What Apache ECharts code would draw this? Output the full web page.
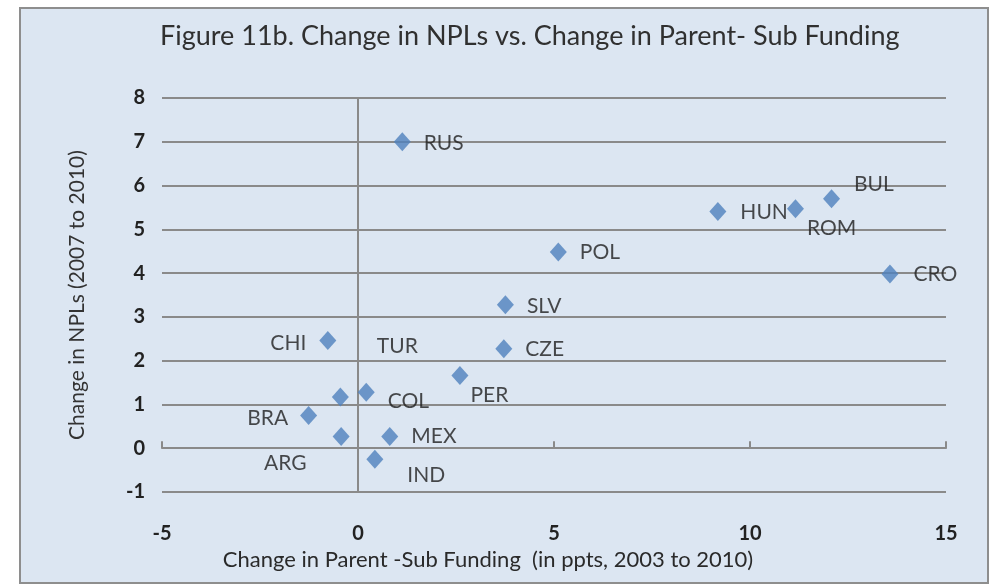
<!DOCTYPE html>
<html>
<head>
<meta charset="utf-8">
<script src="https://cdn.jsdelivr.net/npm/echarts@6/dist/echarts.min.js"></script>
<style>
  html, body { margin: 0; padding: 0; background: #ffffff; }
  #frame { position: absolute; left: 19px; top: 7px; width: 966px; height: 573px;
           background: #dce6f2; border: 2px solid #8e8e8e; }
  #chart { position: absolute; left: 0; top: 0; width: 994px; height: 584px; }
</style>
</head>
<body>
<div id="frame"></div>
<div id="chart"></div>
<script>
// ---- Data ----
const countries = ['RUS', 'HUN', 'ROM', 'BUL', 'CRO', 'POL', 'SLV', 'CZE', 'CHI', 'TUR', 'COL', 'PER', 'BRA', 'ARG', 'MEX', 'IND'];
const fundingChange = [1.13, 9.18, 11.16, 12.08, 13.57, 5.11, 3.76, 3.72, -0.77, -0.45, 0.21, 2.60, -1.26, -0.43, 0.81, 0.43];
const nplChange    = [7.00, 5.41, 5.47, 5.70, 3.98, 4.48, 3.28, 2.27, 2.46, 1.17, 1.28, 1.66, 0.75, 0.27, 0.27, -0.25];
const xTicks = { min: -5, max: 15, interval: 5 };
const yTicks = { min: -1, max: 8, interval: 1 };
const chartTitle = 'Figure 11b. Change in NPLs vs. Change in Parent- Sub Funding';
const xTitle = 'Change in Parent -Sub Funding  (in ppts, 2003 to 2010)';
const yTitle = 'Change in NPLs (2007 to 2010)';

// ---- Label placement (style only) ----
const labelPlacement = {
  RUS: { position: 'right', offset: [0, 1] },
  HUN: { position: 'right', offset: [1, 1] },
  ROM: { position: 'right', offset: [-10, 19] },
  BUL: { position: 'right', offset: [1, -14] },
  CRO: { position: 'right', offset: [2, 0] },
  POL: { position: 'right', offset: [0, 0] },
  SLV: { position: 'right', offset: [0, 2] },
  CZE: { position: 'right', offset: [0, 0] },
  CHI: { position: 'left', offset: [0, 3] },
  TUR: { position: 'right', offset: [15, -51] },
  COL: { position: 'right', offset: [0, 9] },
  PER: { position: 'right', offset: [-11, 20] },
  BRA: { position: 'left', offset: [1, 3] },
  ARG: { position: 'left', offset: [-13, 27] },
  MEX: { position: 'right', offset: [0, 0] },
  IND: { position: 'right', offset: [11, 16] }
};

const FONT = 'Lato, "Liberation Sans", sans-serif';
const gridColor = '#8a8a8a';

const seriesData = countries.map((c, i) => ({
  name: c,
  value: [fundingChange[i], nplChange[i]],
  label: Object.assign({ show: true }, labelPlacement[c])
}));

const chart = echarts.init(document.getElementById('chart'), null, { renderer: 'canvas' });
chart.setOption({
  backgroundColor: 'transparent',
  animation: false,
  textStyle: { fontFamily: FONT },
  title: {
    text: chartTitle,
    left: 155,
    top: 18,
    textStyle: { fontFamily: FONT, fontSize: 27, fontWeight: 'normal', color: '#303030' }
  },
  grid: { left: 162, right: 48, top: 98, bottom: 92, containLabel: false },
  xAxis: [
    {
      type: 'value', min: xTicks.min, max: xTicks.max, interval: xTicks.interval,
      axisLine: { show: false, onZero: false }, axisTick: { show: false }, splitLine: { show: false },
      axisLabel: { margin: 32, fontSize: 20, fontWeight: 'bold', color: '#222222', fontFamily: FONT },
      name: xTitle, nameLocation: 'middle', nameGap: 40,
      nameTextStyle: { fontSize: 22, color: '#2a2a2a', fontFamily: FONT, padding: [0, 132, 0, 0] }
    },
    {
      type: 'value', min: xTicks.min, max: xTicks.max, interval: xTicks.interval, position: 'bottom',
      axisLine: { show: true, onZero: true, lineStyle: { color: gridColor, width: 2 } },
      axisTick: { show: true, inside: true, length: 7, lineStyle: { color: gridColor, width: 2 } },
      axisLabel: { show: false }, splitLine: { show: false }
    }
  ],
  yAxis: [
    {
      type: 'value', min: yTicks.min, max: yTicks.max, interval: yTicks.interval,
      axisLine: { show: false, onZero: false }, axisTick: { show: false },
      splitLine: { show: true, lineStyle: { color: gridColor, width: 2 } },
      axisLabel: { margin: 17, fontSize: 20, fontWeight: 'bold', color: '#222222', fontFamily: FONT },
      name: yTitle, nameLocation: 'middle', nameGap: 74, nameRotate: 90,
      nameTextStyle: { fontSize: 21, color: '#333333', fontFamily: FONT }
    },
    {
      type: 'value', min: yTicks.min, max: yTicks.max, interval: yTicks.interval, position: 'left',
      axisLine: { show: true, onZero: true, lineStyle: { color: gridColor, width: 2 } },
      axisTick: { show: false }, axisLabel: { show: false }, splitLine: { show: false }
    }
  ],
  series: [{
    type: 'scatter',
    xAxisIndex: 0, yAxisIndex: 0,
    symbol: 'diamond',
    symbolSize: [17, 19],
    itemStyle: { color: '#4f81bd' },
    label: { show: true, distance: 13, fontSize: 21, color: '#1e1e1e', fontFamily: FONT,
             formatter: p => p.name },
    data: seriesData,
    z: 5
  }]
});
</script>
</body>
</html>
